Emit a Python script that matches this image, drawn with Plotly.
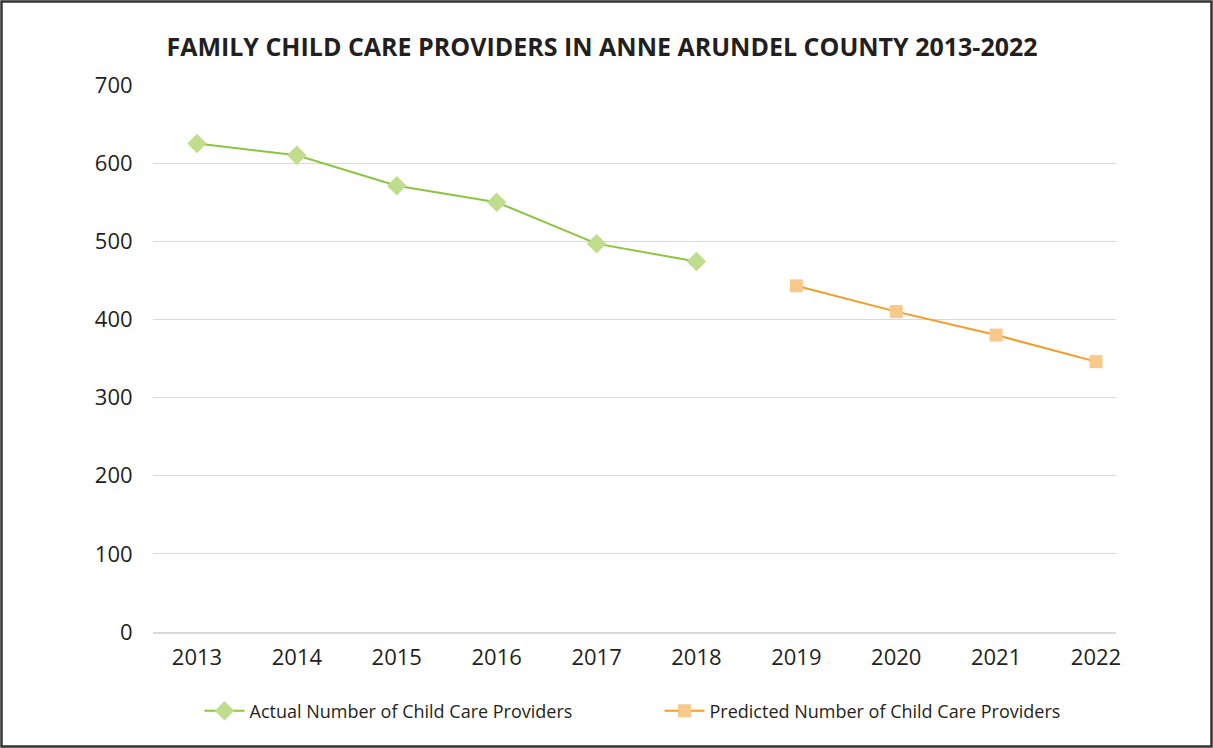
import plotly.graph_objects as go

# data
years_actual = [2013, 2014, 2015, 2016, 2017, 2018]
actual = [625, 610, 571, 550, 497, 474]
years_pred = [2019, 2020, 2021, 2022]
predicted = [443, 410, 380, 346]
year_ticks = list(range(2013, 2023))

W, H = 1213, 748
ml, mr, mt, mb = 153, 97, 85, 116
pw = W - ml - mr
ph = H - mt - mb

fig = go.Figure()
fig.add_trace(go.Scatter(
    x=years_actual, y=actual, mode="lines+markers",
    name="Actual Number of Child Care Providers",
    line=dict(color="#8cc540", width=2),
    marker=dict(symbol="diamond", size=15, color="#bfdd8d"),
))
fig.add_trace(go.Scatter(
    x=years_pred, y=predicted, mode="lines+markers",
    name="Predicted Number of Child Care Providers",
    line=dict(color="#f39c26", width=2),
    marker=dict(symbol="square", size=13, color="#f9c98b"),
))

# outer frame around the whole picture
fig.add_shape(type="rect", xref="paper", yref="paper",
              x0=-(ml - 1.5) / pw, x1=1 + (mr - 1.5) / pw,
              y0=-(mb - 1.5) / ph, y1=1 + (mt - 1.5) / ph,
              line=dict(color="#333333", width=2.5))

fig.update_layout(
    width=W, height=H,
    margin=dict(l=ml, r=mr, t=mt, b=mb),
    paper_bgcolor="white", plot_bgcolor="white",
    font=dict(family="Open Sans, sans-serif", color="#231f20"),
    title=dict(text="<b>FAMILY CHILD CARE PROVIDERS IN ANNE ARUNDEL COUNTY 2013-2022</b>",
               x=0.4963, xanchor="center", y=1 - 47 / H, yanchor="middle",
               font=dict(size=25, color="#231f20")),
    xaxis=dict(range=[2013 - 44 / 99.9, 2022 + 20 / 99.9], tickvals=year_ticks,
               showgrid=False, zeroline=False, showline=True,
               linecolor="#d9d9d9", linewidth=1.5,
               tickfont=dict(size=22), ticks="outside", ticklen=5,
               tickcolor="rgba(0,0,0,0)"),
    yaxis=dict(range=[0, 700], dtick=100, showgrid=True, gridcolor="#d9d9d9",
               gridwidth=1, zeroline=False, showline=False,
               tickfont=dict(size=22), ticks="outside", ticklen=15,
               tickcolor="rgba(0,0,0,0)"),
    legend=dict(orientation="h", x=0.5 + 25 / pw, xanchor="center", y=-(711 - 632) / ph,
                yanchor="middle", font=dict(size=18), entrywidth=405, itemwidth=40),
    showlegend=True,
)

fig.write_html("out.html", config={"displayModeBar": False},
               post_script="document.body.style.margin='0';")
